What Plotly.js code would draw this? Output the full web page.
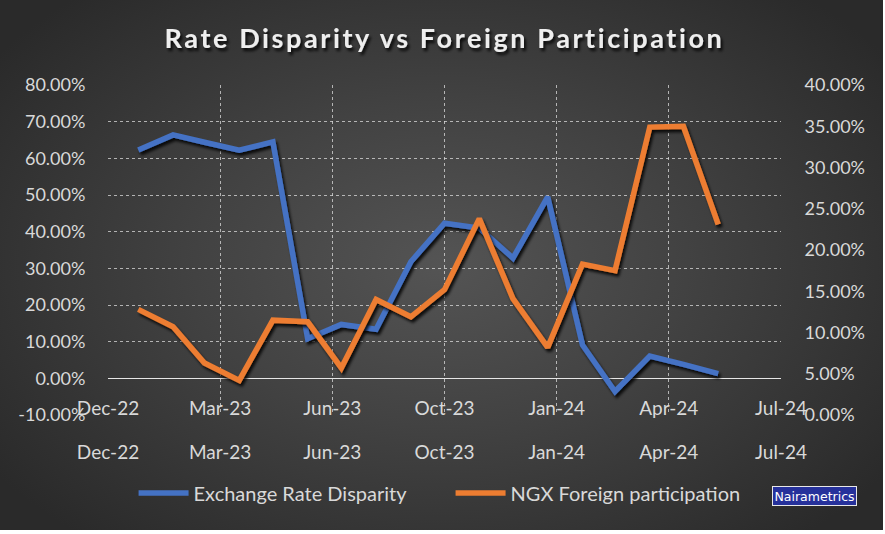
<!DOCTYPE html>
<html>
<head>
<meta charset="utf-8">
<script src="https://cdn.plot.ly/plotly-3.0.1.min.js"></script>
<style>
  html, body { margin: 0; padding: 0; background: #ffffff; }
  #wrap { position: relative; width: 885px; height: 534px; overflow: hidden; }
  #bg { position: absolute; left: 0; top: 0; width: 883px; height: 530px;
        background: radial-gradient(ellipse 62% 68% at 50% 50%, #545454 0%, #424242 45%, #2a2a2a 100%); }
  #chart { position: absolute; left: 0; top: 0; width: 885px; height: 534px; }
  .gtitle { letter-spacing: 2.6px; }
</style>
</head>
<body>
<svg width="0" height="0" style="position:absolute">
  <defs>
    <filter id="shadow" x="-20%" y="-20%" width="140%" height="140%">
      <feGaussianBlur in="SourceAlpha" stdDeviation="1.6"/>
      <feOffset dx="2" dy="3" result="ob"/>
      <feComponentTransfer><feFuncA type="linear" slope="0.85"/></feComponentTransfer>
      <feMerge><feMergeNode/><feMergeNode in="SourceGraphic"/></feMerge>
    </filter>
  </defs>
</svg>
<div id="wrap">
  <div id="bg"></div>
  <div id="chart"></div>
</div>
<script>
// ---- data ----
var months = ['2023-01-01','2023-02-01','2023-03-01','2023-04-01','2023-05-01','2023-06-01',
              '2023-07-01','2023-08-01','2023-09-01','2023-10-01','2023-11-01','2023-12-01',
              '2024-01-01','2024-02-01','2024-03-01','2024-04-01','2024-05-01','2024-06-01'];
var exchangeRateDisparity = [0.623, 0.664, 0.644, 0.622, 0.645, 0.108, 0.147, 0.134, 0.318, 0.423,
                             0.410, 0.328, 0.495, 0.091, -0.036, 0.061, 0.038, 0.013];
var ngxForeignParticipation = [0.128, 0.107, 0.063, 0.042, 0.115, 0.113, 0.057, 0.140, 0.119, 0.152,
                               0.238, 0.141, 0.082, 0.183, 0.175, 0.349, 0.350, 0.231];
var xTickVals = ['2022-12-05','2023-03-15','2023-06-23','2023-10-01','2024-01-09','2024-04-18','2024-07-27'];
var xTickText = ['Dec-22','Mar-23','Jun-23','Oct-23','Jan-24','Apr-24','Jul-24'];
var leftTickVals = [-0.1, 0, 0.1, 0.2, 0.3, 0.4, 0.5, 0.6, 0.7, 0.8];
var leftTickText = ['-10.00%','0.00%','10.00%','20.00%','30.00%','40.00%','50.00%','60.00%','70.00%','80.00%'];
var rightTickVals = [0, 0.05, 0.1, 0.15, 0.2, 0.25, 0.3, 0.35, 0.4];
var rightTickText = ['0.00%','5.00%','10.00%','15.00%','20.00%','25.00%','30.00%','35.00%','40.00%'];
var seriesNames = ['Exchange Rate Disparity', 'NGX Foreign participation'];
var chartTitle = 'Rate Disparity vs Foreign Participation';

var txtColor = '#d9d9d9';
var gridColor = 'rgba(220,220,220,0.75)';
var fontFam = 'Lato, Carlito, Calibri, sans-serif';

var traces = [
  { x: months, y: exchangeRateDisparity, name: seriesNames[0], type: 'scatter', mode: 'lines',
    xaxis: 'x', yaxis: 'y', line: { color: '#4472C4', width: 5.5, shape: 'linear' }, hoverinfo: 'x+y' },
  { x: months, y: ngxForeignParticipation, name: seriesNames[1], type: 'scatter', mode: 'lines',
    xaxis: 'x2', yaxis: 'y2', line: { color: '#ED7D31', width: 5.5, shape: 'linear' }, hoverinfo: 'x+y' }
];

var xRange = [xTickVals[0], xTickVals[xTickVals.length - 1]];

var layout = {
  width: 885, height: 534,
  paper_bgcolor: 'rgba(0,0,0,0)', plot_bgcolor: 'rgba(0,0,0,0)',
  margin: { l: 108, r: 104, t: 85, b: 119 },
  font: { family: fontFam, color: txtColor, size: 18 },
  title: { text: chartTitle, x: 0.5, xref: 'paper', xanchor: 'center', y: 0.928, yref: 'container', yanchor: 'middle',
           font: { family: fontFam, size: 27, color: '#eeeeee', weight: 'bold' } },
  showlegend: true,
  legend: { orientation: 'h', x: 0.038, xref: 'paper', xanchor: 'left', y: 0.077, yref: 'container', yanchor: 'middle',
            font: { family: fontFam, size: 20, color: txtColor }, itemwidth: 50, bgcolor: 'rgba(0,0,0,0)',
            traceorder: 'normal', entrywidth: 252 },
  xaxis: { type: 'date', range: xRange, tickvals: xTickVals, ticktext: xTickText,
           showgrid: true, gridcolor: gridColor, griddash: 'dot', gridwidth: 1,
           zeroline: false, showline: false, ticks: 'outside', ticklen: 0, ticklabelstandoff: 20,
           tickfont: { family: fontFam, size: 19, color: txtColor }, anchor: 'y', fixedrange: true },
  xaxis2: { type: 'date', range: xRange, tickvals: xTickVals, ticktext: xTickText, overlaying: 'x',
            anchor: 'free', position: 0, showgrid: false, zeroline: false, showline: false,
            ticks: 'outside', ticklen: 0, ticklabelstandoff: -24,
            tickfont: { family: fontFam, size: 19, color: txtColor }, fixedrange: true },
  yaxis: { range: [-0.1, 0.8], tickvals: leftTickVals, ticktext: leftTickText,
           showgrid: true, gridcolor: gridColor, griddash: 'dot', gridwidth: 1,
           zeroline: true, zerolinecolor: '#e6e6e6', zerolinewidth: 1.5,
           showline: false, ticks: 'outside', ticklen: 0, ticklabelstandoff: 18,
           tickfont: { family: fontFam, size: 18, color: txtColor }, fixedrange: true },
  yaxis2: { range: [0, 0.4], tickvals: rightTickVals, ticktext: rightTickText, overlaying: 'y', side: 'right',
            anchor: 'x', showgrid: false, zeroline: false, showline: false,
            ticks: 'outside', ticklen: 0, ticklabelstandoff: 19,
            tickfont: { family: fontFam, size: 18, color: txtColor }, fixedrange: true },
  annotations: [
    { text: 'Nairametrics', xref: 'paper', yref: 'paper', x: 1.05, y: -0.245, xanchor: 'center', yanchor: 'middle',
      showarrow: false, bgcolor: '#26319b', bordercolor: '#e8e8e8', borderwidth: 1, borderpad: 1.5,
      font: { family: 'DejaVu Sans, sans-serif', size: 12.5, color: '#ffffff' } }
  ]
};

Plotly.newPlot('chart', traces, layout, { displayModeBar: false, staticPlot: true }).then(function () {
  document.querySelectorAll('.scatterlayer .js-line').forEach(function (p) { p.setAttribute('filter', 'url(#shadow)'); });
  document.querySelectorAll('.gtitle').forEach(function (t) { t.setAttribute('filter', 'url(#shadow)'); });
});
</script>
</body>
</html>
